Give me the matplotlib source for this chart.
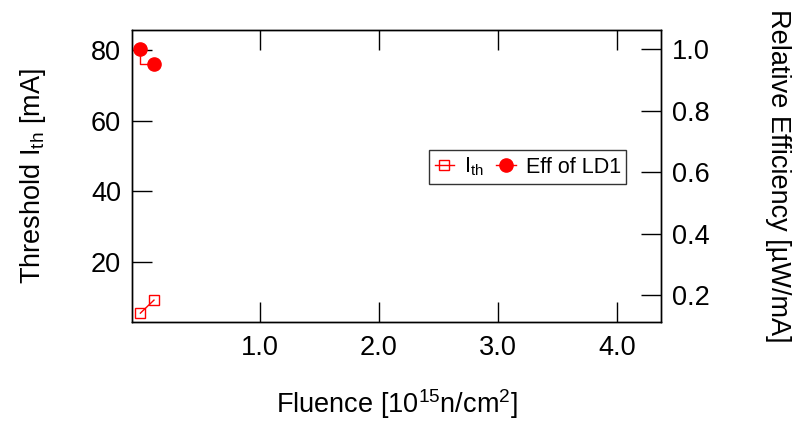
import matplotlib
matplotlib.use("Agg")
import matplotlib.pyplot as plt

plt.rcParams['font.family'] = ['Liberation Sans', 'DejaVu Sans']
plt.rcParams['mathtext.fontset'] = 'custom'
plt.rcParams['mathtext.rm'] = 'Liberation Sans'
plt.rcParams['mathtext.it'] = 'Liberation Sans:italic'

# data
fluence = [0.0, 0.114]
ith = [5.4, 9.1]
eff = [1.0, 0.952]

xticks = [1.0, 2.0, 3.0, 4.0]
left_ticks = [20, 40, 60, 80]
right_ticks = [0.2, 0.4, 0.6, 0.8, 1.0]

fig = plt.figure(figsize=(7.93, 4.26), dpi=100)
ax = fig.add_axes([0.1665, 0.2441, 0.667, 0.6855])
ax2 = ax.twinx()

l1, = ax.plot(fluence, ith, color='red', lw=1, marker='s', ms=7,
              mfc='none', mec='red', mew=1, label='I$_{\\mathrm{th}}$')
l2, = ax2.plot(fluence, eff, color='red', lw=1, marker='o', ms=9.5,
               drawstyle='steps-pre', label='Eff of LD1')

ax.set_xlim(-0.07, 4.365)
ax.set_ylim(2.88, 85.76)
ax2.set_ylim(0.112, 1.063)

ax.set_xticks(xticks)
ax.set_xticklabels(['%.1f' % v for v in xticks])
ax.set_yticks(left_ticks)
ax2.set_yticks(right_ticks)
ax2.set_yticklabels(['%.1f' % v for v in right_ticks])

fs = 19.5
ax.tick_params(axis='both', direction='in', length=14.4, width=1, labelsize=fs, pad=8)
ax.tick_params(axis='x', top=True, pad=9)
ax2.tick_params(axis='y', direction='in', length=14.4, width=1, labelsize=fs, pad=8)
for a in (ax, ax2):
    for s in a.spines.values():
        s.set_linewidth(1)

ax.set_xlabel('Fluence [10$^{15}$n/cm$^{2}$]', fontsize=fs, labelpad=19)
ax.set_ylabel('Threshold I$_{\\mathrm{th}}$ [mA]', fontsize=fs, labelpad=31)
ax2.set_ylabel('Relative Efficiency [\u00b5W/mA]', fontsize=fs, rotation=270, labelpad=58)

leg = ax2.legend(handles=[l1, l2], loc='center', bbox_to_anchor=(0.748, 0.531),
                 ncol=2, fontsize=15.5, frameon=True, fancybox=False, edgecolor='black',
                 handlelength=0.9, handletextpad=0.45, columnspacing=0.6,
                 borderpad=0.25, borderaxespad=0)
leg.get_frame().set_linewidth(1)

fig.savefig('out.png', dpi=100)
